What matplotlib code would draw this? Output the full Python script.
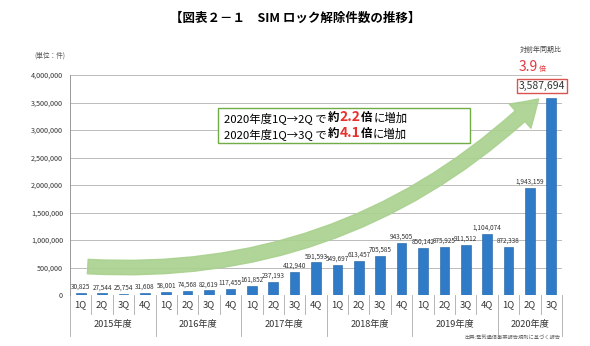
import matplotlib
matplotlib.use('Agg')
import matplotlib.pyplot as plt
import matplotlib.transforms as mtransforms
from matplotlib.patches import FancyArrowPatch, Rectangle
from matplotlib.text import Annotation
import numpy as np

plt.rcParams['font.family'] = ['Noto Sans CJK JP', 'DejaVu Sans']

years = ['2015年度', '2016年度', '2017年度', '2018年度', '2019年度', '2020年度']
quarters = ['1Q', '2Q', '3Q', '4Q']
counts = [30825, 27544, 25754, 31608,
          58001, 74568, 82619, 117455,
          161852, 237193, 412940, 591593,
          549697, 613457, 705585, 943505,
          850142, 875925, 911512, 1104074,
          872338, 1943159, 3587694]
yticks = [0, 500000, 1000000, 1500000, 2000000, 2500000, 3000000, 3500000, 4000000]

W, H = 590, 346
fig = plt.figure(figsize=(W / 100, H / 100), dpi=100)
ax = fig.add_axes([70 / W, 1 - 295 / H, (562 - 70) / W, (295 - 75) / H])

x = np.arange(len(counts))
ax.bar(x, counts, width=0.45, color='#2f7bc8', edgecolor='#1f5fa0', linewidth=0.4, zorder=3)
# last bar's value is shown in the red box instead
for xi, v in zip(x[:-1], counts[:-1]):
    ax.text(xi, v + 40000, f'{v:,}', ha='center', va='bottom', fontsize=4.6, color='#333333', zorder=5)

ax.set_xlim(-0.5, len(counts) - 0.5)
ax.set_ylim(0, 4000000)
ax.set_yticks(yticks)
ax.set_yticklabels([f'{t:,}' for t in yticks], fontsize=5.2)
ax.tick_params(axis='y', length=0, pad=5, colors='#333333')
ax.tick_params(axis='x', length=0, labelbottom=False)
ax.grid(axis='y', color='#bbbbbb', linewidth=0.7, zorder=0)
for s in ['top', 'right', 'bottom']:
    ax.spines[s].set_visible(False)
ax.spines['left'].set_color('#999999')
ax.spines['left'].set_linewidth(0.7)

# category table below the axis
trans = mtransforms.blended_transform_factory(ax.transData, ax.transAxes)
ph = (295 - 75)
def ay(py):
    return (295 - py) / ph

for i in range(len(counts)):
    ax.text(i, ay(305), quarters[i % 4], transform=trans, ha='center', va='center', fontsize=6.8, color='#333333')
for i in range(len(counts) + 1):
    bottom = ay(336) if i % 4 == 0 or i == len(counts) else ay(314)
    ax.plot([i - 0.5, i - 0.5], [ay(295), bottom], transform=trans, color='#aaaaaa', linewidth=0.6, clip_on=False)
for k, yr in enumerate(years):
    start = k * 4
    end = min(start + 4, len(counts))
    ax.text((start + end - 1) / 2, ay(324), yr, transform=trans, ha='center', va='center', fontsize=6.6, color='#333333')

# growth arrow
arrow = FancyArrowPatch((0.2, 520000), (21.5, 3600000), connectionstyle='arc3,rad=0.22',
                        arrowstyle='simple,head_width=18,head_length=14,tail_width=8',
                        color='#a9d18e', alpha=0.9, zorder=4, mutation_scale=1.3)
ax.add_patch(arrow)

# annotation box
fig.add_artist(Rectangle((218 / W, 1 - 143 / H), (470 - 218) / W, 35 / H, transform=fig.transFigure,
                         facecolor='white', edgecolor='#70ad47', linewidth=1.0, zorder=6))

def rich(py, mult):
    parts = [('2020年度1Q→' + mult[0] + ' で', 'black', 'normal', 8.2),
             ('約', 'black', 'bold', 8.2),
             (mult[1], '#e8302c', 'bold', 10),
             ('倍', 'black', 'bold', 8.2),
             ('に増加', 'black', 'normal', 8.2)]
    prev = fig.text(224 / W, 1 - py / H, parts[0][0], color=parts[0][1], fontweight=parts[0][2],
                    fontsize=parts[0][3], va='baseline', zorder=7)
    for txt, col, wt, fs in parts[1:]:
        a = Annotation(txt, xy=(1, 0), xycoords=prev, xytext=(0.5, 0), textcoords='offset points',
                       va='bottom', ha='left', color=col, fontweight=wt, fontsize=fs,
                       annotation_clip=False, zorder=7)
        fig.add_artist(a)
        prev = a

rich(122, ('2Q', '2.2'))
rich(138, ('3Q', '4.1'))

# headings
fig.text(0.5, 1 - 18 / H, '【図表２－１　SIM ロック解除件数の推移】', ha='center', va='center',
         fontsize=9, fontweight='bold')
fig.text(50 / W, 1 - 56 / H, '(単位：件)', ha='center', va='center', fontsize=4.8, color='#555555')
fig.text(541 / W, 1 - 50 / H, '対前年同期比', ha='center', va='center', fontsize=5, color='#444444')
fig.text(538 / W, 1 - 71 / H, '3.9', ha='right', va='baseline', fontsize=10, color='#e0393e')
fig.text(539 / W, 1 - 71 / H, '倍', ha='left', va='baseline', fontsize=5, color='#e0393e')
fig.text(542 / W, 1 - 86 / H, f'{counts[-1]:,}', ha='center', va='center', fontsize=7.5, color='#333333',
         bbox=dict(boxstyle='square,pad=0.2', facecolor='white', edgecolor='#d9534f', linewidth=1.0))
fig.text(560 / W, 1 - 338 / H, '出典:電気通信事業報告規則に基づく報告', ha='right', va='center',
         fontsize=3.8, color='#666666')

fig.savefig('out.png', dpi=100)
